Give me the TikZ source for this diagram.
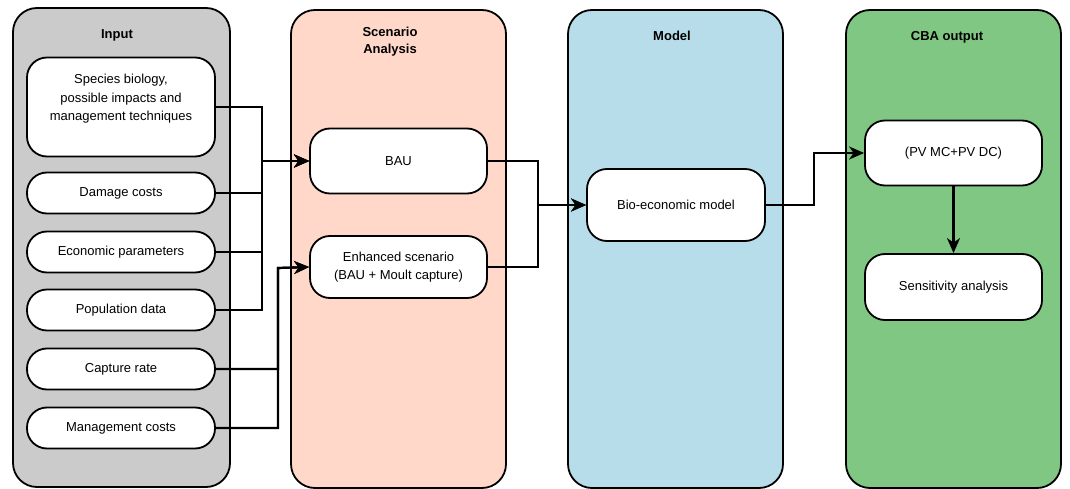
\documentclass[tikz,border=0pt]{standalone}
\usepackage{fontspec}
\setmainfont{Liberation Sans}
\usepackage{xcolor}
\usepackage{tikz}
\usetikzlibrary{arrows.meta,calc}
\definecolor{inputGray}{HTML}{CBCBCB}
\definecolor{scenPeach}{HTML}{FFD8CA}
\definecolor{modelBlue}{HTML}{B8DDEA}
\definecolor{cbaGreen}{HTML}{81C784}
\definecolor{ink}{HTML}{000000}
\tikzset{
  panel/.style={draw=ink, line width=1.8pt, rounded corners=24pt},
  panelTitle/.style={font=\fontsize{13}{17}\selectfont\bfseries, align=center},
  itemBox/.style={draw=ink, fill=white, line width=1.8pt, rounded corners=20pt,
    inner sep=0pt, align=center, font=\fontsize{13}{18.5}\selectfont},
  flowLine/.style={draw=ink, line width=2.2pt},
  flowArrow/.style={flowLine, -{Stealth[length=15pt, width=13pt, inset=4.5pt]}},
}
\newcommand{\ItemBox}[5]{% name, x, y, height, text
  \node[itemBox, minimum width=188pt, minimum height=#4pt] (#1) at (#2,#3) {#5};
}
\begin{document}
\begin{tikzpicture}[x=1pt, y=-1pt]
  \useasboundingbox (0,0) rectangle (1070,489);

  % columns
  \draw[panel, fill=inputGray] (13,8) rectangle (230,487);
  \draw[panel, fill=scenPeach] (291,10) rectangle (506,488);
  \draw[panel, fill=modelBlue] (568,10) rectangle (783,488);
  \draw[panel, fill=cbaGreen]  (846,10) rectangle (1061,488);

  \node[panelTitle] (inputTtl) at (117,35) {Input};
  \node[panelTitle] (scenTtl)  at (390,42) {Scenario\\Analysis};
  \node[panelTitle] (modelTtl) at (672,36) {Model};
  \node[panelTitle] (cbaTtl)   at (947,37) {CBA output};

  % input items
  \ItemBox{species}{121}{107}{99}{Species biology,\\possible impacts and\\management techniques\\[0pt]}
  \ItemBox{damage}{121}{193}{41}{Damage costs}
  \ItemBox{econ}{121}{252}{41}{Economic parameters}
  \ItemBox{popdata}{121}{310}{41}{Population data}
  \ItemBox{capture}{121}{369}{41}{Capture rate}
  \ItemBox{mgmtcost}{121}{428}{41}{Management costs}

  % scenarios, model, output
  \node[itemBox, minimum width=177pt, minimum height=65pt] (bau) at (398.5,161) {BAU};
  \node[itemBox, minimum width=177pt, minimum height=62pt] (enhanced) at (398.5,267)
    {Enhanced scenario\\(BAU + Moult capture)};
  \node[itemBox, minimum width=178pt, minimum height=72pt] (bioecon) at (676,205) {Bio-economic model};
  \node[itemBox, minimum width=177pt, minimum height=65pt] (pvsum) at (953.5,153) {(PV MC+PV DC)};
  \node[itemBox, minimum width=177pt, minimum height=66pt] (sensitivity) at (953.5,287) {Sensitivity analysis};

  \coordinate (mergeA) at (262,161);
  \coordinate (mergeB) at (278,268);
  \coordinate (mergeC) at (538,205);
  \coordinate (mergeD) at (814,153);

  \foreach \src in {species,damage,econ,popdata}
    \draw[flowArrow] (\src.east) -| (mergeA) -- (bau.west);
  \foreach \src in {capture,mgmtcost}
    \draw[flowArrow] (\src.east) -| (mergeB) -- (enhanced.west);
  \foreach \src in {bau,enhanced}
    \draw[flowArrow] (\src.east) -| (mergeC) -- (bioecon.west);
  \draw[flowArrow] (bioecon.east) -| (mergeD) -- (pvsum.west);
  \draw[flowArrow] (pvsum) -- (sensitivity);
\end{tikzpicture}
\end{document}
